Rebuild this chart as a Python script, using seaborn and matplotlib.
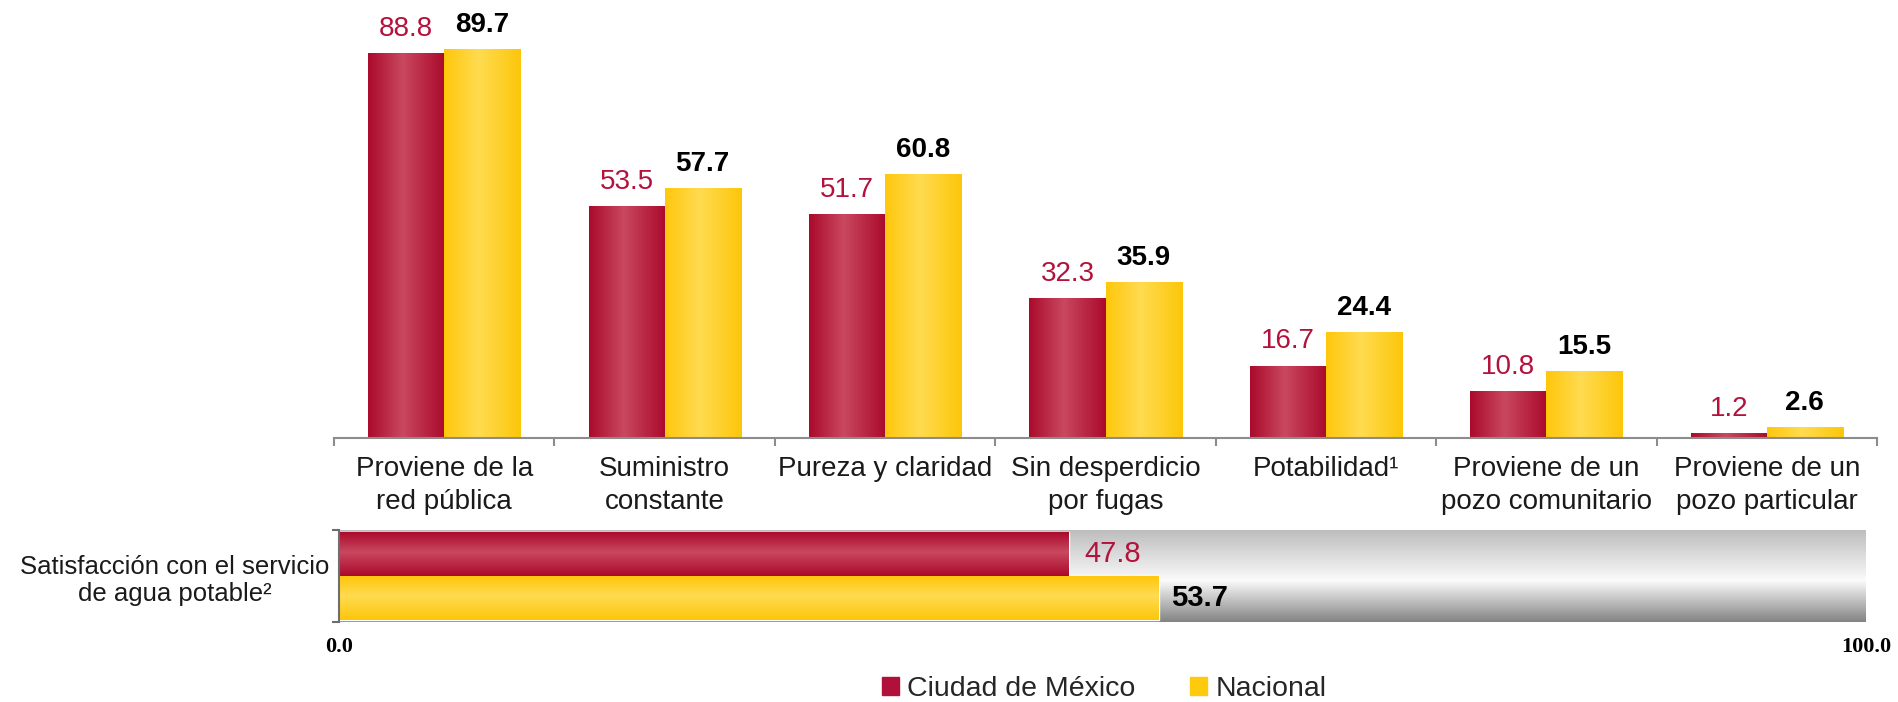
import numpy as np
import pandas as pd
import seaborn as sns
from matplotlib import pyplot as plt
from matplotlib.colors import LinearSegmentedColormap

# datos
categorias = ["Proviene de la\nred pública", "Suministro\nconstante", "Pureza y claridad",
              "Sin desperdicio\npor fugas", "Potabilidad¹", "Proviene de un\npozo comunitario",
              "Proviene de un\npozo particular"]
series = ["Ciudad de México", "Nacional"]
cdmx = [88.8, 53.5, 51.7, 32.3, 16.7, 10.8, 1.2]
nacional = [89.7, 57.7, 60.8, 35.9, 24.4, 15.5, 2.6]

indicador = "Satisfacción con el servicio\nde agua potable²"
satisf_cdmx = [47.8]
satisf_nacional = [53.7]
escala = [100.0]
escala_ticks = [0.0, 100.0]

ROJO = '#b0103a'
AMARILLO = '#ffc90e'
ROJO_TXT = '#b3123c'

sns.set_theme(style='white')
plt.rcParams['font.family'] = ['Liberation Sans', 'DejaVu Sans']


def sombrear(ax, patch, paradas, eje):
    # degradado dentro de la barra, recortado a su forma
    x0, y0 = patch.get_xy()
    w, h = patch.get_width(), patch.get_height()
    cmap = LinearSegmentedColormap.from_list('g', paradas)
    t = np.linspace(0, 1, 128)
    img = t[None, :] if eje == 'x' else t[:, None]
    im = ax.imshow(img, cmap=cmap, vmin=0, vmax=1, aspect='auto', interpolation='bilinear',
                   extent=[x0, x0 + w, y0 + h, y0], zorder=patch.get_zorder() + 0.1)
    im.set_clip_path(patch)


grad_rojo = [(0, '#ab0a2d'), (0.45, '#c9485f'), (1, '#ab0a2d')]
grad_amar = [(0, '#ffc70c'), (0.45, '#ffdb50'), (1, '#fcc60a')]
grad_gris = [(0, '#bdbdbd'), (0.55, '#fbfbfb'), (1, '#838383')]

fig = plt.figure(figsize=(18.99, 7.02), dpi=100)

# ---- grafica superior ----
ax = fig.add_axes([334 / 1899, 1 - 438 / 702, 1543 / 1899, 438 / 702])
df = pd.DataFrame({
    'categoria': categorias * 2,
    'valor': cdmx + nacional,
    'serie': [series[0]] * len(cdmx) + [series[1]] * len(nacional),
})
sns.barplot(df, x='categoria', y='valor', hue='serie', hue_order=series,
            palette=[ROJO, AMARILLO], saturation=1, width=0.69, errorbar=None, ax=ax)
ax.get_legend().remove()

for cont, grad in zip(ax.containers, [grad_rojo, grad_amar]):
    for p in cont.patches:
        sombrear(ax, p, grad, 'x')

ax.set_xlim(-0.5, len(categorias) - 0.5)
ax.set_ylim(0, 101)

ax.bar_label(ax.containers[0], labels=[f"{v:.1f}" for v in cdmx], padding=8,
             color=ROJO_TXT, fontsize=20)
ax.bar_label(ax.containers[1], labels=[f"{v:.1f}" for v in nacional], padding=8,
             color='black', fontsize=20, fontweight='bold')

ax.set_xticks(np.arange(-0.5, len(categorias)), labels=[''] * (len(categorias) + 1))
ax.set_xticks(range(len(categorias)), labels=categorias, minor=True)
ax.tick_params(axis='x', which='major', direction='out', length=6, width=1.5,
               color='#8c8c8c', bottom=True)
ax.tick_params(axis='x', which='minor', length=0, pad=13, labelsize=20,
               labelcolor='#1a1a1a')
for t in ax.get_xticklabels(minor=True):
    t.set_linespacing(1.35)
ax.set_yticks([])
ax.set_xlabel('')
ax.set_ylabel('')
for s in ['top', 'right', 'left']:
    ax.spines[s].set_visible(False)
ax.spines['bottom'].set_color('#8c8c8c')
ax.spines['bottom'].set_linewidth(1.5)

# ---- grafica inferior ----
ax2 = fig.add_axes([339 / 1899, 1 - 622 / 702, 1527 / 1899, 92 / 702])
fondo = ax2.barh([0] * len(escala), escala, height=0.84, color='#cccccc', zorder=0.5)
for p in fondo.patches:
    sombrear(ax2, p, grad_gris, 'y')

df2 = pd.DataFrame({
    'indicador': [indicador] * 2,
    'valor': satisf_cdmx + satisf_nacional,
    'serie': series,
})
sns.barplot(df2, x='valor', y='indicador', hue='serie', hue_order=series, orient='h',
            palette=[ROJO, AMARILLO], saturation=1, width=0.8, errorbar=None, ax=ax2)
ax2.get_legend().remove()
barras = ax2.containers[-2:]
for cont, grad in zip(barras, [grad_rojo, grad_amar]):
    for p in cont.patches:
        sombrear(ax2, p, grad, 'y')

ax2.set_xlim(0, 100)
ax2.set_ylim(0.42, -0.42)

ax2.bar_label(barras[0], labels=[f"{v:.1f}" for v in satisf_cdmx], padding=11,
              color=ROJO_TXT, fontsize=21)
ax2.bar_label(barras[1], labels=[f"{v:.1f}" for v in satisf_nacional], padding=9,
              color='black', fontsize=21, fontweight='bold')

ax2.set_xticks(escala_ticks, labels=[f"{v:.1f}" for v in escala_ticks])
ax2.tick_params(axis='x', length=0, pad=11)
for t in ax2.get_xticklabels():
    t.set_fontfamily(['Liberation Serif', 'DejaVu Serif'])
    t.set_fontweight('bold')
    t.set_fontsize(16)
    t.set_color('black')
ax2.set_yticks([-0.42, 0.42], labels=['', ''])
ax2.set_yticks([0], labels=[indicador], minor=True)
ax2.tick_params(axis='y', which='major', direction='out', length=5, width=1.5,
                color='#6e6e6e', left=True)
ax2.tick_params(axis='y', which='minor', length=0, pad=7, labelsize=18.5,
                labelcolor='#1a1a1a')
for t in ax2.get_yticklabels(minor=True):
    t.set_multialignment('center')
    t.set_linespacing(1.2)
ax2.set_xlabel('')
ax2.set_ylabel('')
for s in ['top', 'right', 'bottom']:
    ax2.spines[s].set_visible(False)
ax2.spines['left'].set_color('#6e6e6e')
ax2.spines['left'].set_linewidth(1.5)

# leyenda
handles = [plt.Rectangle((0, 0), 1, 1, color=c) for c in [ROJO, AMARILLO]]
fig.legend(handles, series, loc='center', bbox_to_anchor=(1104 / 1899, 1 - 689 / 702),
           ncol=2, frameon=False, fontsize=20.5, handlelength=0.6, handleheight=0.6,
           handletextpad=0.3, columnspacing=1.9, borderpad=0)

plt.savefig('out.png', dpi=100)
